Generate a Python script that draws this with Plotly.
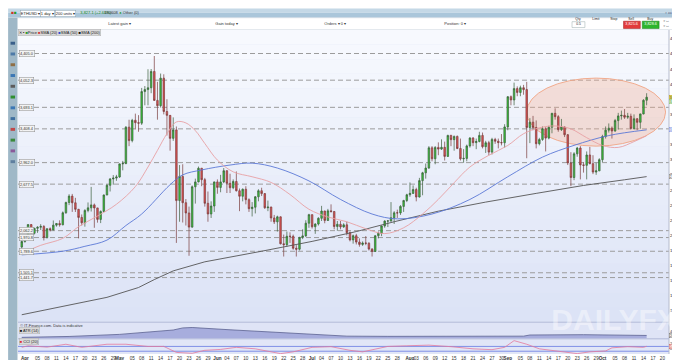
import plotly.graph_objects as go
import pandas as pd

# ---------------- data ----------------
dates = pd.date_range("2021-03-31", "2021-10-15", freq="D")

opens = [1846,
 1919,1977,2143,2028,2093,2107,2118,1971,2088,2072,2135,2157,2139,2299,2435,2519,2431,2344,2237,2166,2330,2364,2403,2363,2211,2316,2534,2662,2746,2757,
 2773,2945,2950,3431,3253,3522,3490,3484,3902,3928,3952,4168,3785,3715,4079,3638,3587,3283,3395,2460,2780,2432,2296,2109,2643,2707,2888,2736,2424,2283,2388,
 2707,2634,2707,2855,2688,2630,2713,2590,2517,2610,2472,2353,2372,2510,2590,2552,2365,2374,2230,2179,2245,1889,1877,1988,1987,1829,1817,1973,1993,2161,
 2274,2114,2150,2226,2322,2197,2324,2316,2117,2146,2111,2139,2036,1940,1995,1911,1880,1899,1895,1819,1787,1995,2027,2124,2189,2191,2233,2298,2297,2383,2461,
 2537,2555,2606,2507,2724,2827,2890,3158,3013,3163,3141,3164,3044,3322,3266,3309,3149,3012,3018,3183,3287,3226,3242,3322,3173,3225,3101,3269,3245,3227,3225,
 3434,3834,3791,3941,3890,3953,3928,3426,3497,3427,3212,3268,3410,3286,3430,3614,3570,3398,3433,3331,2958,2765,3078,3155,2932,2926,3063,2948,2837,2853,
 3001,3307,3391,3418,3380,3518,3580,3587,3563,3575,3414,3542,3495,3606,3787]
highs = [1943,
 1990,2145,2145,2101,2120,2148,2135,2092,2105,2197,2160,2199,2316,2445,2544,2548,2496,2350,2276,2345,2435,2641,2421,2364,2330,2539,2676,2758,2797,2800,
 2950,2985,3444,3529,3541,3610,3590,3950,3975,4197,4200,4372,4030,4140,4130,3800,3590,3560,3440,2930,2940,2480,2380,2660,2750,2910,2890,2760,2580,2450,2710,
 2740,2800,2890,2860,2815,2740,2845,2620,2620,2650,2490,2440,2520,2610,2630,2560,2460,2380,2270,2260,2250,2010,2050,2040,2010,1870,1980,2080,2200,2285,
 2275,2160,2240,2390,2325,2350,2410,2320,2190,2190,2160,2180,2050,2010,2020,1960,1920,1990,1910,1830,2000,2050,2130,2200,2200,2440,2320,2340,2400,2470,2550,
 2700,2660,2630,2760,2840,2950,3180,3180,3180,3230,3270,3240,3330,3330,3320,3320,3280,3140,3200,3300,3300,3280,3370,3360,3250,3250,3290,3290,3280,3340,3470,
 3840,3850,4020,3970,3980,3990,4030,3550,3580,3520,3290,3440,3430,3450,3620,3680,3590,3540,3440,3340,3100,3100,3170,3180,2970,3110,3170,3060,2960,3020,
 3330,3440,3480,3440,3540,3620,3650,3670,3620,3610,3600,3550,3610,3800,3880]
lows = [1770,
 1903,1960,2020,2012,2033,2071,1932,1958,2052,2068,2115,2115,2134,2285,2400,2310,2309,1960,2130,2115,2305,2315,2100,2168,2162,2308,2530,2580,2670,2721,
 2760,2860,2940,3180,3230,3400,3370,3460,3720,3720,3880,3780,3530,3690,3600,3320,3120,3250,1900,2180,2170,2130,1730,2100,2420,2700,2650,2380,2180,2230,2310,
 2550,2570,2690,2560,2560,2610,2580,2320,2450,2410,2310,2250,2290,2450,2520,2350,2320,2180,2150,2050,1880,1720,1850,1900,1810,1720,1800,1950,1980,2100,
 2090,2020,2130,2190,2160,2190,2300,2080,2060,2080,2100,2000,1920,1890,1880,1850,1860,1870,1800,1720,1780,1960,1990,2100,2110,2180,2150,2230,2270,2310,2440,
 2510,2550,2450,2500,2530,2750,2880,2980,2940,3060,3130,2990,3040,3180,3120,3140,2990,2960,2980,3160,3180,3140,3230,3150,3090,3060,3070,3210,3150,3190,3160,
 3390,3720,3720,3840,3840,3860,3020,3220,3390,3150,3190,3250,3110,3270,3350,3530,3370,3380,3300,2930,2650,2730,3040,2740,2830,2740,2940,2810,2800,2850,
 2970,3280,3360,3280,3370,3400,3530,3540,3540,3400,3400,3390,3410,3600,3720]
closes = [1919,
 1977,2143,2028,2093,2107,2118,1971,2088,2072,2135,2157,2139,2299,2435,2519,2431,2344,2237,2166,2330,2364,2403,2363,2211,2316,2534,2662,2746,2757,2773,
 2945,2950,3431,3253,3522,3490,3484,3902,3928,3952,4168,3785,3715,4079,3638,3587,3283,3395,2460,2780,2432,2296,2109,2643,2707,2888,2736,2424,2283,2388,2707,
 2634,2707,2855,2688,2630,2713,2590,2517,2610,2472,2353,2372,2510,2590,2552,2365,2374,2230,2179,2245,1889,1877,1988,1987,1829,1817,1973,1993,2161,2274,
 2114,2150,2226,2322,2197,2324,2316,2117,2146,2111,2139,2036,1940,1995,1911,1880,1899,1895,1819,1787,1995,2027,2124,2189,2191,2233,2298,2297,2383,2461,2537,
 2555,2606,2507,2724,2827,2890,3158,3013,3163,3141,3164,3044,3322,3266,3309,3149,3012,3018,3183,3287,3226,3242,3322,3173,3225,3101,3269,3245,3227,3225,3434,
 3834,3791,3941,3890,3953,3928,3426,3497,3427,3212,3268,3410,3286,3430,3614,3570,3398,3433,3331,2958,2765,3078,3155,2932,2926,3063,2948,2837,2853,3001,
 3307,3391,3418,3380,3518,3580,3587,3563,3575,3414,3542,3495,3606,3787,3827.1]

sma20_dates = ["2021-03-31","2021-04-06","2021-04-13","2021-04-18","2021-04-24","2021-04-30","2021-05-06","2021-05-10",
               "2021-05-13","2021-05-16","2021-05-19","2021-05-22","2021-05-25","2021-05-28","2021-06-01","2021-06-06",
               "2021-06-12","2021-06-18","2021-06-24","2021-06-30","2021-07-06","2021-07-12","2021-07-18","2021-07-24",
               "2021-07-30","2021-08-05","2021-08-10","2021-08-15","2021-08-20","2021-08-26","2021-09-01","2021-09-06",
               "2021-09-11","2021-09-16","2021-09-21","2021-09-26","2021-10-01","2021-10-06","2021-10-11","2021-10-15"]
sma20_vals = [1760,1868,1960,2115,2256,2411,2645,2904,3124,3344,3500,3487,3385,3215,2995,2840,2775,2700,2540,2345,
              2243,2180,2088,2023,2100,2282,2476,2696,2904,3059,3189,3344,3422,3447,3408,3292,3189,3163,3240,3318]

sma50_dates = ["2021-03-31","2021-04-13","2021-04-20","2021-04-27","2021-05-03","2021-05-08","2021-05-17","2021-05-21",
               "2021-05-27","2021-06-05","2021-06-12","2021-06-20","2021-06-30","2021-07-10","2021-07-20","2021-07-28",
               "2021-08-08","2021-08-20","2021-09-01","2021-09-12","2021-09-22","2021-10-03","2021-10-15"]
sma50_vals = [1742,1790,1855,1937,2130,2282,2670,2800,2865,2930,2955,2890,2720,2475,2282,2218,2282,2475,2775,3035,3190,3320,3395.3]

sma200_dates = ["2021-03-31","2021-04-12","2021-04-27","2021-05-07","2021-05-12","2021-05-18","2021-05-28","2021-06-15",
                "2021-07-01","2021-07-15","2021-07-27","2021-08-10","2021-08-25","2021-09-10","2021-09-25","2021-10-08","2021-10-15"]
sma200_vals = [950,1050,1180,1310,1415,1530,1650,1790,1920,2050,2180,2320,2440,2555,2660,2735,2776.9]

atr_dates = ["2021-03-31","2021-04-15","2021-05-01","2021-05-12","2021-05-18","2021-05-21","2021-05-24","2021-06-05",
             "2021-06-20","2021-07-05","2021-07-12","2021-07-25","2021-08-10","2021-08-25","2021-09-06","2021-09-08",
             "2021-09-25","2021-10-15"]
atr_vals = [117,160,260,400,470,570,590,480,360,250,175,165,170,170,175,230,245,208.17]

cci_dates = ["2021-03-31","2021-04-02","2021-04-08","2021-04-14","2021-04-19","2021-04-24","2021-04-27","2021-05-03",
             "2021-05-10","2021-05-15","2021-05-19","2021-05-24","2021-05-28","2021-06-02","2021-06-07","2021-06-13",
             "2021-06-18","2021-06-21","2021-06-25","2021-07-01","2021-07-07","2021-07-13","2021-07-17","2021-07-21",
             "2021-07-25","2021-07-31","2021-08-07","2021-08-14","2021-08-21","2021-08-27","2021-08-31","2021-09-03",
             "2021-09-07","2021-09-11","2021-09-17","2021-09-23","2021-09-27","2021-10-02","2021-10-04","2021-10-09",
             "2021-10-14","2021-10-15"]
cci_vals = [62,126,70,190,62,126,190,190,100,100,-149,-187,-62,-25,62,0,-126,-200,-126,62,89,-62,-126,-25,
            100,126,153,89,0,-36,62,340,190,0,-89,-200,-126,-89,40,89,62,105.76]

levels = [4405.0, 4052.3, 3693.1, 3408.4, 2962.0, 2677.5, 2062.2, 1970.8, 1789.6, 1505.1, 1441.7]

price_ticks = [1000,1200,1400,1600,1800,2000,2200,2400,2600,2800,3000,3200,3400,3600,3800,4000,4200,4400,4600]

tick_dates = ["2021-04-01","2021-04-05","2021-04-08","2021-04-11","2021-04-14","2021-04-17","2021-04-20","2021-04-23","2021-04-26","2021-04-29",
              "2021-05-01","2021-05-05","2021-05-08","2021-05-11","2021-05-14","2021-05-17","2021-05-20","2021-05-23","2021-05-26","2021-05-29",
              "2021-06-01","2021-06-04","2021-06-07","2021-06-10","2021-06-13","2021-06-16","2021-06-19","2021-06-22","2021-06-25","2021-06-28",
              "2021-07-01","2021-07-04","2021-07-07","2021-07-10","2021-07-13","2021-07-16","2021-07-19","2021-07-22","2021-07-25","2021-07-28",
              "2021-08-01","2021-08-03","2021-08-06","2021-08-09","2021-08-12","2021-08-15","2021-08-18","2021-08-21","2021-08-24","2021-08-27","2021-08-30",
              "2021-09-01","2021-09-05","2021-09-08","2021-09-11","2021-09-14","2021-09-17","2021-09-20","2021-09-23","2021-09-26","2021-09-29",
              "2021-10-01","2021-10-05","2021-10-08","2021-10-11","2021-10-14","2021-10-17","2021-10-20"]
tick_text = ["<b>Apr</b>","05","08","11","14","17","20","23","26","29",
             "<b>May</b>","05","08","11","14","17","20","23","26","29",
             "<b>Jun</b>","04","07","10","13","16","19","22","25","28",
             "<b>Jul</b>","04","07","10","13","16","19","22","25","28",
             "<b>Aug</b>","03","06","09","12","15","18","21","24","27","30",
             "<b>Sep</b>","05","08","11","14","17","20","23","26","29",
             "<b>Oct</b>","05","08","11","14","17","20"]

ellipse_x = ["2021-09-07", "2021-10-21"]
ellipse_y = [3180, 4080]

# ---------------- geometry helpers (pixels -> paper) ----------------
W, H = 680, 360
ML, MR, MT, MB = 10, 12, 22, 7


def px_x(p):
    return (p - ML) / (W - ML - MR)


def px_y(p):
    return (H - MB - p) / (H - MT - MB)


FONT = "Liberation Sans, Arial, sans-serif"

fig = go.Figure()

fig.add_trace(go.Candlestick(
    x=dates, open=opens, high=highs, low=lows, close=closes,
    increasing=dict(line=dict(color="#3b5e3b", width=0.7), fillcolor="#38c838"),
    decreasing=dict(line=dict(color="#7a3c3c", width=0.7), fillcolor="#e05252"),
    whiskerwidth=0, hoverinfo="skip", xaxis="x", yaxis="y"))

fig.add_trace(go.Scatter(x=sma200_dates, y=sma200_vals, mode="lines",
                         line=dict(color="#555555", width=0.9), hoverinfo="skip", yaxis="y"))
fig.add_trace(go.Scatter(x=sma50_dates, y=sma50_vals, mode="lines", line_shape="spline",
                         line=dict(color="#5b78d6", width=0.9), hoverinfo="skip", yaxis="y"))
fig.add_trace(go.Scatter(x=sma20_dates, y=sma20_vals, mode="lines", line_shape="spline",
                         line=dict(color="#e8a0a4", width=0.9), hoverinfo="skip", yaxis="y"))

fig.add_trace(go.Scatter(x=atr_dates, y=atr_vals, mode="lines", fill="tozeroy",
                         fillcolor="#a7addd", line=dict(color="#5c6290", width=0.8),
                         hoverinfo="skip", yaxis="y2"))
fig.add_trace(go.Scatter(x=cci_dates, y=cci_vals, mode="lines",
                         line=dict(color="#e4789c", width=0.8), hoverinfo="skip", yaxis="y3"))

shapes = []
# main-panel gradient background
N = 20
top_c, bot_c = (247, 249, 254), (220, 227, 246)
for i in range(N):
    t = i / (N - 1)
    c = tuple(int(round(top_c[k] + (bot_c[k] - top_c[k]) * t)) for k in range(3))
    y0p = 22 + (320 - 22) * i / N
    y1p = 22 + (320 - 22) * (i + 1) / N
    shapes.append(dict(type="rect", xref="paper", yref="paper", x0=0, x1=1,
                       y0=px_y(y1p), y1=px_y(y0p), fillcolor="rgb(%d,%d,%d)" % c,
                       line=dict(width=0), layer="below"))
# lower panels background
shapes.append(dict(type="rect", xref="paper", yref="paper", x0=0, x1=1, y0=px_y(337.5), y1=px_y(320.5),
                   fillcolor="#dfe4f6", line=dict(width=0), layer="below"))
shapes.append(dict(type="rect", xref="paper", yref="paper", x0=0, x1=1, y0=0, y1=px_y(337.5),
                   fillcolor="#e1e6f7", line=dict(width=0), layer="below"))
for yp in (320.5, 337.5):
    shapes.append(dict(type="line", xref="paper", yref="paper", x0=0, x1=1, y0=px_y(yp), y1=px_y(yp),
                       line=dict(color="#aeb7d6", width=1), layer="below"))
# CCI +/-100 guide lines
for v in (100, -100):
    shapes.append(dict(type="line", xref="paper", yref="y3", x0=0, x1=1, y0=v, y1=v,
                       line=dict(color="#7f8fe6", width=1), layer="below"))
# ellipse annotation
shapes.append(dict(type="circle", xref="x", yref="y", x0=ellipse_x[0], x1=ellipse_x[1],
                   y0=ellipse_y[0], y1=ellipse_y[1], fillcolor="rgba(246,172,140,0.32)",
                   line=dict(color="#f0a585", width=0.9), layer="below"))
# horizontal levels
for lv in levels:
    shapes.append(dict(type="line", xref="paper", yref="y", x0=0, x1=1, y0=lv, y1=lv,
                       line=dict(color="#9c9c9c", width=1, dash="5px,3px"), layer="below"))
# right border
shapes.append(dict(type="line", xref="paper", yref="paper", x0=1, x1=1, y0=0, y1=1,
                   line=dict(color="#b5bbcc", width=1)))
# top toolbars
shapes.append(dict(type="rect", xref="paper", yref="paper", x0=px_x(0), x1=px_x(680),
                   y0=px_y(4.5), y1=px_y(0), fillcolor="#c4d8e6", line=dict(width=0)))
shapes.append(dict(type="rect", xref="paper", yref="paper", x0=px_x(0), x1=px_x(680),
                   y0=px_y(9.5), y1=px_y(4.5), fillcolor="#aac6da", line=dict(width=0)))
shapes.append(dict(type="rect", xref="paper", yref="paper", x0=px_x(0), x1=px_x(680),
                   y0=px_y(21.5), y1=px_y(9.5), fillcolor="#ffffff",
                   line=dict(color="#c9d3dc", width=0.5)))
# left tool strip
shapes.append(dict(type="rect", xref="paper", yref="paper", x0=px_x(0), x1=px_x(9.5),
                   y0=px_y(360), y1=px_y(9.5), fillcolor="#9fb8c7", line=dict(width=0)))
for k, col in enumerate(["#3a5f8a", "#4d7aa8", "#8f6f45", "#3b77b5", "#5c5c5c", "#2f8f2f",
                         "#3b77b5", "#3f6fa0", "#c04848", "#3b8a3b", "#8a5a9a", "#5f7f9f"]):
    yy = 34 + k * 11
    shapes.append(dict(type="rect", xref="paper", yref="paper", x0=px_x(2.5), x1=px_x(7),
                       y0=px_y(yy + 3), y1=px_y(yy), fillcolor=col, line=dict(width=0)))
# sell / buy boxes
shapes.append(dict(type="rect", xref="paper", yref="paper", x0=px_x(622), x1=px_x(639),
                   y0=px_y(20.5), y1=px_y(13), fillcolor="#e23b3b", line=dict(color="#a02020", width=0.5)))
shapes.append(dict(type="rect", xref="paper", yref="paper", x0=px_x(641), x1=px_x(658),
                   y0=px_y(20.5), y1=px_y(13), fillcolor="#2db52d", line=dict(color="#1d7d1d", width=0.5)))
shapes.append(dict(type="rect", xref="paper", yref="paper", x0=px_x(570), x1=px_x(583),
                   y0=px_y(19.5), y1=px_y(13.5), fillcolor="#ffffff", line=dict(color="#9aa", width=0.5)))

annotations = []


def note(xp, yp, text, size=4.2, color="#222", bg=None, border=None, xanchor="left", bold=False):
    d = dict(x=px_x(xp), y=px_y(yp), xref="paper", yref="paper", text=("<b>%s</b>" % text) if bold else text,
             showarrow=False, font=dict(size=size, color=color, family=FONT), xanchor=xanchor,
             yanchor="middle", borderpad=0.3)
    if bg:
        d["bgcolor"] = bg
    if border:
        d["bordercolor"] = border
        d["borderwidth"] = 0.5
    annotations.append(d)


# toolbar row 1
note(1.5, 4.8, "<span style='color:#d03030'>■</span><span style='color:#2a9a2a'>■</span>", size=4.5)
note(12, 4.8, "ETHUSD ▾", size=4, bg="#ffffff", border="#8aa0b0")
note(32, 4.8, "1 day ▾", size=4, bg="#ffffff", border="#8aa0b0")
note(47, 4.8, "200 units ▾", size=4, bg="#ffffff", border="#8aa0b0")
note(72, 4.8, "3,827.1 (+2.64%)", size=4, color="#168a16")
note(96, 4.8, "580608", size=4, color="#333")
note(111, 4.8, "<span style='color:#2a9a2a'>●</span> Other (0)", size=4, color="#333")
note(676, 4.8, "▫ ▭ ✕", size=4, xanchor="right", color="#335")
# toolbar row 2
note(100, 15.5, "Latest gain ▾", size=4, color="#333")
note(208, 15.5, "Gain today ▾", size=4, color="#333")
note(318, 15.5, "Orders ▾ 0 ▾", size=4, color="#333")
note(440, 15.5, "Position: 0 ▾", size=4, color="#333")
note(576.5, 10.8, "Qty", size=3.4, xanchor="center")
note(576.5, 16.5, "0.5", size=3.4, xanchor="center")
note(594, 10.8, "Limit", size=3.4, xanchor="center")
note(612, 10.8, "Stop", size=3.4, xanchor="center")
note(630.5, 10.8, "Sell", size=3.4, xanchor="center")
note(649.5, 10.8, "Buy", size=3.4, xanchor="center")
note(630.5, 16.8, "3,825.6", size=3.8, color="#ffffff", xanchor="center")
note(649.5, 16.8, "3,828.6", size=3.8, color="#ffffff", xanchor="center")
note(661, 13, "○ ▭", size=3.4, color="#333")
note(661, 18.5, "○ ▭", size=3.4, color="#333")
# legend chips
note(10.5, 24.3, "✕ ▪ <span style='color:#2a9a2a'>■</span>Price <span style='color:#d43a3a'>■</span>SMA (20) "
     "<span style='color:#2b4fd0'>■</span>SMA (50) <span style='color:#111'>■</span>SMA (200)",
     size=4, bg="#d9d9d9", border="#b0b0b0")
# lower-panel labels
note(11, 324.2, "© IT-Finance.com. Data is indicative", size=3.9, color="#333")
note(11, 329.4, "<span style='color:#111'>■</span> ATR (14)", size=3.9, bg="#d9d9d9", border="#b0b0b0")
note(11, 340.2, "<span style='color:#e03030'>■</span> CCI (20)", size=3.9, bg="#d9d9d9", border="#b0b0b0")
# watermark
note(612, 318, "DAILYFX", size=30, color="rgba(255,255,255,0.42)", xanchor="center", bold=True)

# level labels on the left
for lv in levels:
    annotations.append(dict(x=0.002, y=lv, xref="paper", yref="y", text=f"{lv:,.1f}", showarrow=False,
                            font=dict(size=3.9, color="#333", family=FONT), xanchor="left", yanchor="middle",
                            bgcolor="#f3f3f3", bordercolor="#8a8a8a", borderwidth=0.5, borderpad=0.4))


# right-hand value boxes
def rbox(yref, val, text, bg, fg, border):
    annotations.append(dict(x=px_x(667.5), y=val, xref="paper", yref=yref, text=text, showarrow=False,
                            font=dict(size=3.3, color=fg, family=FONT), xanchor="left", yanchor="middle",
                            bgcolor=bg, bordercolor=border, borderwidth=0.5, borderpad=0.2))


rbox("y", closes[-1], f"{closes[-1]:,.1f}", "#f3e45a", "#222", "#b09a20")
rbox("y", closes[-1] - 62, "3,834.8", "#e6f6dc", "#1f8a1f", "#7cbf6a")
rbox("y", sma50_vals[-1], f"{sma50_vals[-1]:,.1f}", "#ffffff", "#2b4fd0", "#6f86e0")
rbox("y", sma200_vals[-1], f"{sma200_vals[-1]:,.1f}", "#ffffff", "#333", "#777")
rbox("y2", atr_vals[-1], f"{atr_vals[-1]:.2f}", "#ffffff", "#333", "#666")
rbox("y3", cci_vals[-1], f"{cci_vals[-1]:.2f}", "#ffffff", "#d03030", "#d05050")

fig.update_layout(
    width=W, height=H,
    margin=dict(l=ML, r=MR, t=MT, b=MB),
    paper_bgcolor="#ffffff", plot_bgcolor="#e3e8f7",
    showlegend=False,
    font=dict(family=FONT, size=5, color="#333"),
    shapes=shapes, annotations=annotations,
    xaxis=dict(type="date", range=["2021-03-29 19:30", "2021-10-22 02:00"], domain=[0, 1], anchor="y3",
               tickvals=tick_dates, ticktext=tick_text, tickangle=0, ticks="", showgrid=False,
               zeroline=False, showline=False, tickfont=dict(size=4.6, color="#333"),
               rangeslider=dict(visible=False)),
    yaxis=dict(domain=[px_y(320), 1], range=[858, 4716], side="right", anchor="x",
               tickvals=price_ticks, ticktext=[f"{v:,}" for v in price_ticks], ticks="",
               ticklabeloverflow="allow", ticklabelstandoff=0,
               showgrid=False, zeroline=False, tickfont=dict(size=4.3, color="#222")),
    yaxis2=dict(domain=[px_y(337), px_y(321)], range=[70, 822], side="right", anchor="x",
                tickvals=[400], ticks="", ticklabeloverflow="allow", showgrid=False, zeroline=False,
                tickfont=dict(size=3.8, color="#333")),
    yaxis3=dict(domain=[0, px_y(338)], range=[-215, 395], side="right", anchor="x",
                tickvals=[0, 200], ticks="", ticklabeloverflow="allow", showgrid=False, zeroline=False,
                tickfont=dict(size=3.8, color="#333")),
)

fig.write_html("out.html", config={"displayModeBar": False})
